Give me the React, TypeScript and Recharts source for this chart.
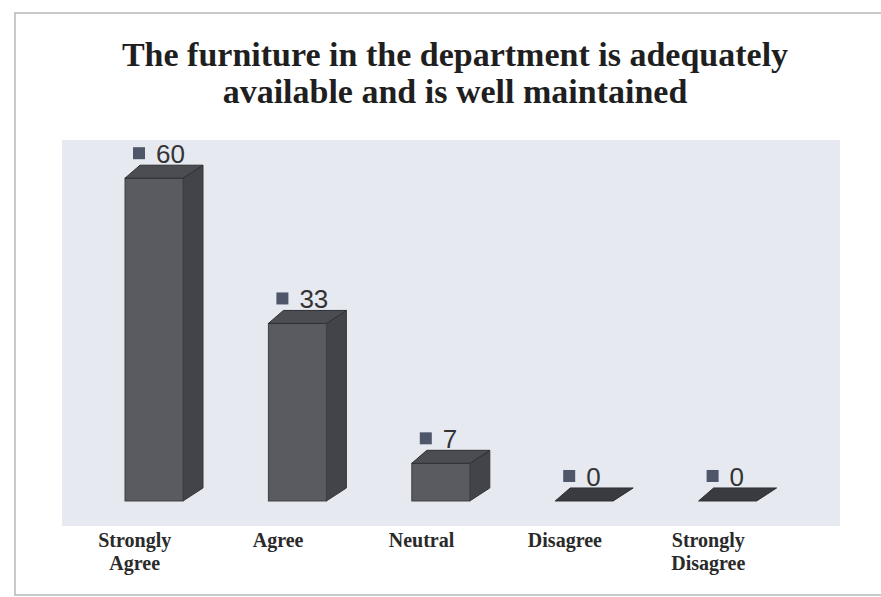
import React from "react";
import { BarChart, Bar, XAxis, YAxis, CartesianGrid, LabelList, Customized } from "recharts";

const categories = ["Strongly Agree", "Agree", "Neutral", "Disagree", "Strongly Disagree"];
const percentages = [60, 33, 7, 0, 0];
const titleLines = ["The furniture in the department is adequately", "available and is well maintained"];

const data = categories.map((c, i) => ({ name: c, value: percentages[i] }));

const W = 881;
const H = 597;

const Box3D = (props: any) => {
  const { x, y, width, height } = props;
  const dl = 15;
  const dr = 20;
  const dy = 13;
  const h = Math.max(0, height);
  const top = `${x},${y} ${x + dl},${y - dy} ${x + width + dr},${y - dy} ${x + width},${y}`;
  const side = `${x + width},${y} ${x + width + dr},${y - dy} ${x + width + dr},${y + h - dy} ${x + width},${y + h}`;
  return (
    <g>
      {h > 0 && <polygon points={side} fill="#434449" stroke="#36373b" strokeWidth={1} />}
      {h > 0 && <rect x={x} y={y} width={width} height={h} fill="#5a5b61" stroke="#3f4045" strokeWidth={1} />}
      <polygon points={top} fill={h > 0 ? "#4c4d53" : "#3a3b40"} stroke="#2e2f33" strokeWidth={1} />
    </g>
  );
};

const ValueLabel = (props: any) => {
  const { x, y, value } = props;
  return (
    <g>
      <rect x={x + 8} y={y - 31} width={12} height={12} fill="#50566a" />
      <text x={x + 31} y={y - 15} fontFamily="'Liberation Sans', Arial, sans-serif" fontSize={26} fill="#333">
        {value}
      </text>
    </g>
  );
};

const CategoryTick = (props: any) => {
  const { x, payload } = props;
  const words = String(payload.value).split(" ");
  return (
    <text
      x={x - 19}
      y={547}
      textAnchor="middle"
      fontFamily="'Liberation Serif', 'Times New Roman', serif"
      fontWeight="bold"
      fontSize={20}
      fill="#2a2a2a"
    >
      {words.map((w, i) => (
        <tspan key={i} x={x - 19} dy={i === 0 ? 0 : 23}>
          {w}
        </tspan>
      ))}
    </text>
  );
};

const Decor = () => (
  <g>
    <rect x={15} y={13} width={900} height={582} fill="none" stroke="#b8b8b8" strokeWidth={1.5} />
    {titleLines.map((t, i) => (
      <text
        key={i}
        x={455}
        y={66 + i * 37}
        textAnchor="middle"
        fontFamily="'Liberation Serif', 'Times New Roman', serif"
        fontWeight="bold"
        fontSize={34}
        fill="#1f1f1f"
      >
        {t}
      </text>
    ))}
  </g>
);

export default function App() {
  return (
    <div style={{ position: "absolute", left: 0, top: 0, width: W, height: H, background: "#fff" }}>
      <BarChart width={W} height={H} data={data} margin={{ top: 140, right: 41, bottom: 0, left: 62 }}>
        <Customized component={Decor} />
        <CartesianGrid horizontal={false} vertical={false} fill="#e7e9f1" stroke="none" />
        <XAxis
          dataKey="name"
          height={71}
          axisLine={false}
          tickLine={false}
          interval={0}
          padding={{ left: 20, right: 41 }}
          tick={<CategoryTick />}
        />
        <YAxis hide domain={[-4.65, 67.1]} allowDataOverflow type="number" />
        <Bar dataKey="value" barSize={58} shape={<Box3D />} isAnimationActive={false}>
          <LabelList dataKey="value" content={<ValueLabel />} />
        </Bar>
      </BarChart>
    </div>
  );
}
